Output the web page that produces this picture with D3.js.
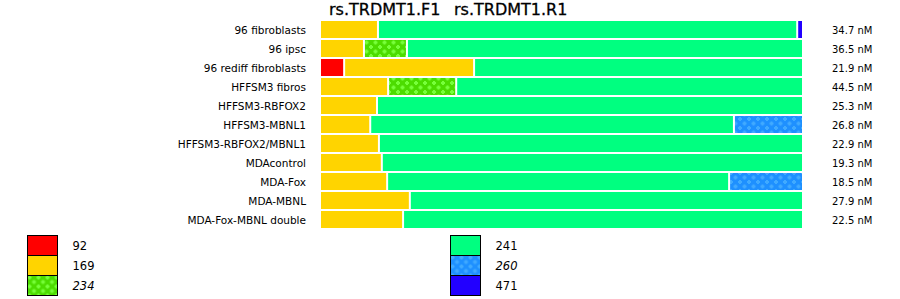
<!DOCTYPE html>
<html>
<head>
<meta charset="utf-8">
<script src="https://cdn.jsdelivr.net/npm/d3@7"></script>
<style>
  body { margin: 0; background: #fff; }
  text { font-family: "DejaVu Sans", sans-serif; fill: #000; }
</style>
</head>
<body>
<script>
const categories = ['96 fibroblasts', '96 ipsc', '96 rediff fibroblasts', 'HFFSM3 fibros',
    'HFFSM3-RBFOX2', 'HFFSM3-MBNL1', 'HFFSM3-RBFOX2/MBNL1', 'MDAcontrol',
    'MDA-Fox', 'MDA-MBNL', 'MDA-Fox-MBNL double'];
const concentrations = ['34.7 nM', '36.5 nM', '21.9 nM', '44.5 nM', '25.3 nM', '26.8 nM',
    '22.9 nM', '19.3 nM', '18.5 nM', '27.9 nM', '22.5 nM'];
const titles = ['rs.TRDMT1.F1', 'rs.TRDMT1.R1'];
const keys = ['92', '169', '234', '241', '260', '471'];
// percent of each row, per allele size
const s92  = [0, 0, 5.0, 0, 0, 0, 0, 0, 0, 0, 0];
const s169 = [12.0, 9.1, 26.9, 14.1, 11.8, 10.4, 12.2, 12.8, 13.9, 18.6, 17.2];
const s234 = [0, 8.9, 0, 14.1, 0, 0, 0, 0, 0, 0, 0];
const s241 = [86.8, 82.0, 68.1, 71.8, 88.2, 75.3, 87.8, 87.2, 70.8, 81.4, 82.8];
const s260 = [0, 0, 0, 0, 0, 14.3, 0, 0, 15.3, 0, 0];
const s471 = [1.2, 0, 0, 0, 0, 0, 0, 0, 0, 0, 0];
const series = { '92': s92, '169': s169, '234': s234, '241': s241, '260': s260, '471': s471 };

const fills = { '92': '#ff0000', '169': '#ffd400', '234': 'url(#pat-green)',
    '241': '#00ff80', '260': 'url(#pat-blue)', '471': '#2200ff' };
const italicKeys = ['234', '260'];

const width = 900, height = 299;
const svg = d3.select('body').append('svg')
    .attr('width', width).attr('height', height);

// patterns
const defs = svg.append('defs');
function crossPattern(id, base, dot) {
    let p = defs.append('pattern').attr('id', id)
        .attr('patternUnits', 'userSpaceOnUse')
        .attr('width', 9).attr('height', 9);
    p.append('rect').attr('width', 9).attr('height', 9).attr('fill', base);
    [[2, 2], [6.5, 6.5]].forEach(([cx, cy]) => {
        p.append('rect').attr('x', cx - 2).attr('y', cy - 1).attr('width', 4).attr('height', 2).attr('fill', dot);
        p.append('rect').attr('x', cx - 1).attr('y', cy - 2).attr('width', 2).attr('height', 4).attr('fill', dot);
    });
}
crossPattern('pat-green', '#4cdc00', '#77ff3a');
crossPattern('pat-blue', '#1e90ff', '#40aaff');

const X = d3.scaleLinear().domain([0, 100]).range([320, 803]);
const Y = d3.scaleBand().domain(categories).range([20, 229]);

const table = categories.map((c, i) => {
    let row = { cat: c };
    keys.forEach(k => row[k] = series[k][i]);
    return row;
});
const stacked = d3.stack().keys(keys)(table);

svg.append('g').selectAll('g')
    .data(stacked)
    .join('g')
    .attr('fill', d => fills[d.key])
    .selectAll('rect')
    .data(d => d.filter(s => s[1] - s[0] > 0))
    .join('rect')
    .attr('x', d => X(d[0]) + 1)
    .attr('width', d => Math.max(0, X(d[1]) - X(d[0]) - 2))
    .attr('y', d => Y(d.data.cat) + 1)
    .attr('height', Y.bandwidth() - 2);

// row labels
svg.append('g').selectAll('text')
    .data(categories)
    .join('text')
    .attr('x', 306)
    .attr('y', d => Y(d) + Y.bandwidth() / 2 + 4)
    .attr('text-anchor', 'end')
    .style('font-size', '10.5px')
    .text(d => d);

// concentrations on the right
svg.append('g').selectAll('text')
    .data(concentrations)
    .join('text')
    .attr('x', 832)
    .attr('y', (d, i) => Y(categories[i]) + Y.bandwidth() / 2 + 4)
    .style('font-size', '10px')
    .text(d => d);

// titles
svg.selectAll('text.title')
    .data(titles)
    .join('text')
    .attr('class', 'title')
    .attr('x', (d, i) => [329, 454][i])
    .attr('y', 15)
    .style('font-size', '16px')
    .attr('stroke', '#000')
    .attr('stroke-width', 0.3)
    .text(d => d);

// legend, two columns of three
const legend = svg.append('g').selectAll('g')
    .data(keys)
    .join('g')
    .attr('transform', (d, i) => `translate(${i < 3 ? 27.5 : 450.5},${235.5 + (i % 3) * 20})`);
legend.append('rect')
    .attr('width', 30).attr('height', 20)
    .attr('fill', d => fills[d])
    .attr('stroke', '#000').attr('stroke-width', 1);
legend.append('text')
    .attr('x', 45).attr('y', 14.5)
    .style('font-size', '11.5px')
    .style('font-style', d => italicKeys.includes(d) ? 'italic' : 'normal')
    .text(d => d);
</script>
</body>
</html>
